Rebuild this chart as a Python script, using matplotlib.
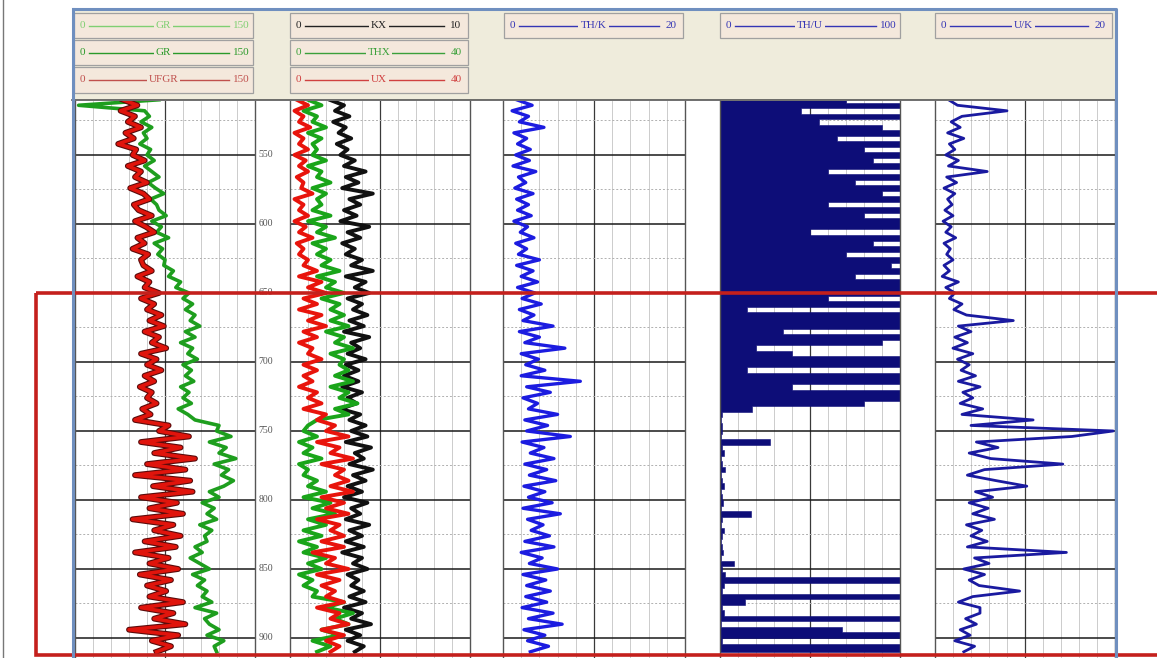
import matplotlib.pyplot as plt
import numpy as np
from matplotlib.patches import Rectangle

W, H = 1157, 658

# depth sampling (m) and depth labels
depth = np.arange(510, 911, 4)
depth_marks = [550, 600, 650, 700, 750, 800, 850, 900]

# track 1 (API, 0-150)
gr = [70, 3, 58, 62, 55, 64, 57, 60, 54, 63,
      60, 66, 58, 64, 70, 61, 67, 74, 63, 68,
      70, 76, 64, 72, 68, 78, 66, 73, 69, 75,
      74, 82, 78, 88, 84, 95, 90, 98, 92, 100,
      96, 104, 92, 100, 88, 98, 94, 102, 90, 97,
      92, 99, 88, 95, 90, 97, 86, 94, 100, 120,
      118, 130, 112, 126, 120, 134, 116, 128, 122, 132,
      124, 112, 120, 106, 116, 110, 118, 104, 114, 108,
      110, 100, 106, 96, 104, 112, 98, 108, 102, 110,
      106, 114, 100, 118, 108, 112, 120, 110, 124, 116,
      118]
ufgr = [40, 52, 38, 50, 44, 55, 42, 49, 36, 51,
        48, 58, 44, 55, 50, 60, 46, 57, 62, 49,
        53, 64, 50, 59, 66, 52, 58, 48, 61, 55,
        57, 64, 52, 62, 58, 70, 55, 66, 60, 72,
        62, 74, 58, 70, 64, 76, 55, 68, 60, 72,
        58, 66, 54, 64, 60, 68, 56, 63, 50, 78,
        70, 95, 55, 88, 66, 100, 60, 92, 50, 96,
        65, 98, 55, 85, 62, 90, 48, 82, 66, 88,
        58, 84, 50, 78, 62, 86, 54, 80, 60, 76,
        62, 90, 55, 82, 66, 92, 45, 86, 64, 80,
        68]

# track 2: KX (0-10), THX and UX (0-40)
kx = [2.2, 3.0, 2.5, 3.3, 2.4, 3.1, 2.7, 3.4, 2.6, 3.2,
      2.8, 3.6, 3.0, 4.2, 3.1, 3.8, 2.9, 4.6, 3.3, 3.9,
      3.0, 3.7, 2.8, 4.4, 3.2, 3.9, 2.9, 3.6, 3.1, 4.0,
      3.4, 4.6, 3.1, 4.2, 3.6, 4.4, 3.2, 4.0, 3.5, 4.3,
      3.3, 4.1, 3.0, 4.4, 3.4, 3.9, 3.2, 4.2, 3.1, 3.8,
      3.0, 3.8, 2.9, 4.0, 3.2, 3.7, 2.8, 3.9, 3.3, 4.2,
      3.4, 4.3, 3.1, 4.5, 3.6, 4.1, 3.3, 4.6, 3.5, 4.2,
      3.2, 4.0, 3.0, 4.3, 3.4, 3.9, 3.1, 4.4, 3.3, 4.0,
      3.1, 4.1, 2.9, 4.0, 3.5, 4.3, 3.2, 3.8, 3.4, 4.1,
      3.3, 4.2, 3.0, 4.0, 3.4, 4.5, 3.1, 3.9, 3.2, 4.1,
      3.6]
thx = [4, 7, 3, 6, 5, 8, 4, 7, 5, 6,
       5, 8, 4, 7, 6, 9, 5, 8, 6, 7,
       5, 9, 4, 8, 6, 10, 5, 8, 6, 9,
       7, 11, 6, 10, 8, 12, 7, 11, 9, 12,
       9, 13, 8, 12, 10, 14, 9, 12, 11, 13,
       10, 14, 9, 13, 11, 15, 10, 13, 6, 4,
       3, 6, 2, 5, 3, 7, 2, 4, 3, 6,
       4, 8, 3, 9, 5, 10, 4, 8, 3, 7,
       2, 6, 3, 8, 4, 7, 2, 5, 3, 6,
       5, 12, 8, 14, 10, 13, 7, 11, 5, 9,
       6]
ux = [1.5, 4, 1, 3, 2, 4.5, 1, 3, 2, 4,
      1, 3.5, 2, 4, 1.5, 3, 2.5, 5, 1, 3,
      2, 4, 1, 3.5, 2, 5, 1.5, 3, 2, 4,
      3, 6, 2, 7, 4, 8, 3, 6, 2, 7,
      4, 8, 3, 6, 2, 5, 4, 7, 3, 6,
      3, 5, 2, 6, 4, 7, 3, 8, 6, 10,
      8, 13, 6, 11, 9, 14, 7, 12, 10, 13,
      9, 14, 7, 12, 8, 13, 6, 11, 9, 12,
      7, 12, 5, 10, 8, 13, 6, 11, 7, 10,
      8, 12, 6, 11, 9, 13, 7, 12, 8, 11,
      9]

# track 3: TH/K (0-20)
th_k = [1.5, 3.2, 1.0, 2.8, 1.8, 4.5, 1.2, 2.6, 1.6, 3.0,
        1.4, 2.9, 1.1, 3.6, 1.7, 2.5, 1.3, 3.3, 1.5, 2.8,
        1.6, 3.1, 1.2, 2.7, 1.9, 3.4, 1.4, 2.6, 1.7, 4.0,
        1.5, 3.3, 2.0, 3.8, 1.6, 3.5, 2.1, 4.2, 1.8, 3.4,
        2.2, 5.5, 1.8, 4.0, 2.4, 6.8, 2.0, 3.9, 2.5, 4.6,
        2.0, 8.5, 2.6, 5.2, 2.2, 3.8, 2.8, 6.0, 2.4, 4.9,
        2.6, 7.4, 2.1, 4.5, 3.0, 5.6, 2.4, 4.8, 2.9, 5.8,
        2.3, 4.6, 2.8, 5.4, 2.2, 6.3, 2.7, 4.4, 3.1, 5.1,
        2.4, 5.6, 2.0, 4.3, 2.9, 6.0, 2.2, 4.7, 2.6, 5.2,
        2.5, 4.8, 2.1, 5.5, 2.8, 6.5, 2.3, 4.6, 2.7, 5.0,
        3.0]

# track 4: TH/U (0-100)
th_u = [70, 110, 45, 110, 55, 90, 110, 65, 110, 80,
        110, 85, 110, 60, 110, 75, 110, 90, 110, 60,
        110, 80, 110, 110, 50, 110, 85, 110, 70, 110,
        95, 110, 75, 110, 110, 110, 60, 110, 15, 110,
        110, 110, 35, 110, 90, 20, 40, 110, 110, 15,
        110, 110, 40, 110, 110, 80, 18, 1, 0.5, 1,
        1, 0.5, 28, 1, 2, 0.5, 1, 3, 0.5, 1,
        2, 0.5, 1, 1.5, 0.5, 17, 1, 0.5, 2, 1,
        0.5, 1, 1.5, 0.5, 8, 1, 3, 110, 2, 1,
        110, 14, 1, 2, 110, 0.5, 68, 110, 1, 110,
        110]

# track 5: U/K (0-20)
u_k = [1.5, 2.5, 8.0, 3.0, 1.8, 2.8, 1.4, 3.2, 1.6, 2.2,
       1.2, 2.6, 1.5, 5.8, 1.3, 2.4, 1.0, 2.2, 1.4, 1.9,
       1.1, 2.0, 0.9, 1.8, 1.2, 2.3, 1.0, 1.7, 1.3, 2.0,
       1.0, 1.6, 0.8, 2.6, 1.2, 2.2, 1.6, 3.0, 2.1, 3.5,
       8.7, 2.6, 4.0, 2.2, 3.6, 2.0, 4.2, 2.5, 3.8, 2.9,
       4.5, 2.6, 5.0, 3.1, 4.2, 2.8, 5.3, 3.0, 10.9, 4.0,
       19.8, 15.2, 4.6, 7.0, 3.8, 6.2, 14.2, 5.5, 3.6, 6.8,
       10.2, 4.5, 6.4, 3.8, 5.9, 4.2, 6.6, 3.5, 5.2, 4.0,
       5.8, 3.6, 14.6, 4.4, 6.0, 3.2, 5.5, 3.8, 4.9, 9.4,
       4.2, 2.6, 5.0, 5.0, 3.4, 4.6, 2.8, 3.9, 2.2, 4.4,
       3.2]

# header legend: one list per track
hdr_names = [['GR', 'GR', 'UFGR'], ['KX', 'THX', 'UX'], ['TH/K'], ['TH/U'], ['U/K']]
hdr_max = [['150', '150', '150'], ['10', '40', '40'], ['20'], ['100'], ['20']]
hdr_colors = [['#7fcf72', '#2a9a2a', '#c0504d'], ['#222222', '#3aa03a', '#d04040'],
              ['#3535b5'], ['#3535b5'], ['#3535b5']]

fig = plt.figure(figsize=(W / 100, H / 100), dpi=100)
fig.patch.set_facecolor('white')


def px_axes(x0, y0, x1, y1, **kw):
    return fig.add_axes([x0 / W, 1 - y1 / H, (x1 - x0) / W, (y1 - y0) / H], **kw)


Y0, Y1 = 101, 658
D_TOP, D_BOT = 510.9, 914.5


def style_track(ax, xmax):
    ax.set_xlim(0, xmax)
    ax.set_ylim(D_BOT, D_TOP)
    ax.set_xticks([])
    ax.set_yticks([])
    for i in range(1, 10):
        if i == 5:
            ax.axvline(xmax * i / 10, color='#3a3a3a', lw=0.9, zorder=0)
        else:
            ax.axvline(xmax * i / 10, color='#c4c4c4', lw=0.6, zorder=0)
    for d in range(525, 911, 50):
        ax.axhline(d, color='#b0b0b0', lw=0.7, ls=(0, (2, 2)), zorder=0)
    for d in depth_marks:
        ax.axhline(d, color='#1a1a1a', lw=1.1, zorder=0.5)
    for s in ['top', 'bottom']:
        ax.spines[s].set_visible(False)
    for s in ['left', 'right']:
        ax.spines[s].set_color('#555555')
        ax.spines[s].set_linewidth(1.0)


# track 1
ax1 = px_axes(75, Y0, 255, Y1)
style_track(ax1, 150)
ax1.plot(gr, depth, color='#1e9e1e', lw=2.6, zorder=2)
ax1.plot(ufgr, depth, color='#5a0b0b', lw=4.2, zorder=3)
ax1.plot(ufgr, depth, color='#e0140c', lw=2.6, zorder=4)
for d in depth_marks:
    ax1.text(1.062, d, str(d), transform=ax1.get_yaxis_transform(), ha='center', va='center',
             fontsize=7, family='Liberation Serif', color='#555555', clip_on=False)

# track 2
ax2 = px_axes(290, Y0, 470, Y1)
style_track(ax2, 10)
ax2.plot(kx, depth, color='#111111', lw=2.8, zorder=2)
ax2b = px_axes(290, Y0, 470, Y1, facecolor='none')
ax2b.set_xlim(0, 40)
ax2b.set_ylim(D_BOT, D_TOP)
ax2b.axis('off')
ax2b.plot(thx, depth, color='#1aa51a', lw=2.8, zorder=2)
ax2b.plot(ux, depth, color='#e8140c', lw=2.8, zorder=3)

# track 3
ax3 = px_axes(503, Y0, 685, Y1)
style_track(ax3, 20)
ax3.plot(th_k, depth, color='#1c1ce0', lw=2.4, zorder=2)

# track 4
ax4 = px_axes(720, Y0, 900, Y1)
style_track(ax4, 100)
ax4.fill_betweenx(depth, 0, th_u, step='mid', color='#0d0d78', lw=0.4, zorder=2)

# track 5
ax5 = px_axes(935, Y0, 1115, Y1)
style_track(ax5, 20)
ax5.plot(u_k, depth, color='#1a1aa0', lw=2.0, zorder=2)

# overlay: header, frame, highlight box
ov = fig.add_axes([0, 0, 1, 1], facecolor='none')
ov.set_xlim(0, W)
ov.set_ylim(H, 0)
ov.axis('off')

ov.add_patch(Rectangle((72, 9), 1044, 91, fc='#efecdc', ec='none'))
ov.plot([72, 1116], [100, 100], color='#555555', lw=1.2)
ov.plot([72, 1116, 1116], [9, 9, H], color='#6f8fbf', lw=2.2, solid_capstyle='butt')
ov.plot([73, 73], [9, H], color='#6f8fbf', lw=2.2)
ov.plot([3, 3], [0, H], color='#777777', lw=1.0)

box_x = [(74, 253), (290, 468), (504, 683), (720, 900), (935, 1112)]
row_y = [(13, 38), (40, 65), (67, 93)]
row_bg = '#f4e8dc'
for (x0, x1), names, maxes, cols in zip(box_x, hdr_names, hdr_max, hdr_colors):
    for (r0, r1), name, mx, col in zip(row_y, names, maxes, cols):
        ov.add_patch(Rectangle((x0, r0), x1 - x0, r1 - r0, fc=row_bg, ec='#a0a0a0', lw=0.9))
        yc = (r0 + r1) / 2
        xc = (x0 + x1) / 2
        ov.plot([x0 + 15, x1 - 24], [yc, yc], color=col, lw=1.0)
        ov.text(x0 + 8, yc, '0', ha='center', va='center', fontsize=8,
                family='Liberation Serif', color=col)
        ov.text(x1 - 12, yc, mx, ha='center', va='center', fontsize=8,
                family='Liberation Serif', color=col)
        ov.text(xc, yc, name, ha='center', va='center', fontsize=8, family='Liberation Serif',
                color=col, bbox=dict(fc=row_bg, ec='none', pad=1.5))

ov.add_patch(Rectangle((36, 293), 1140, 362, fc='none', ec='#c4201c', lw=2.6))

fig.savefig('out.png', dpi=100)
